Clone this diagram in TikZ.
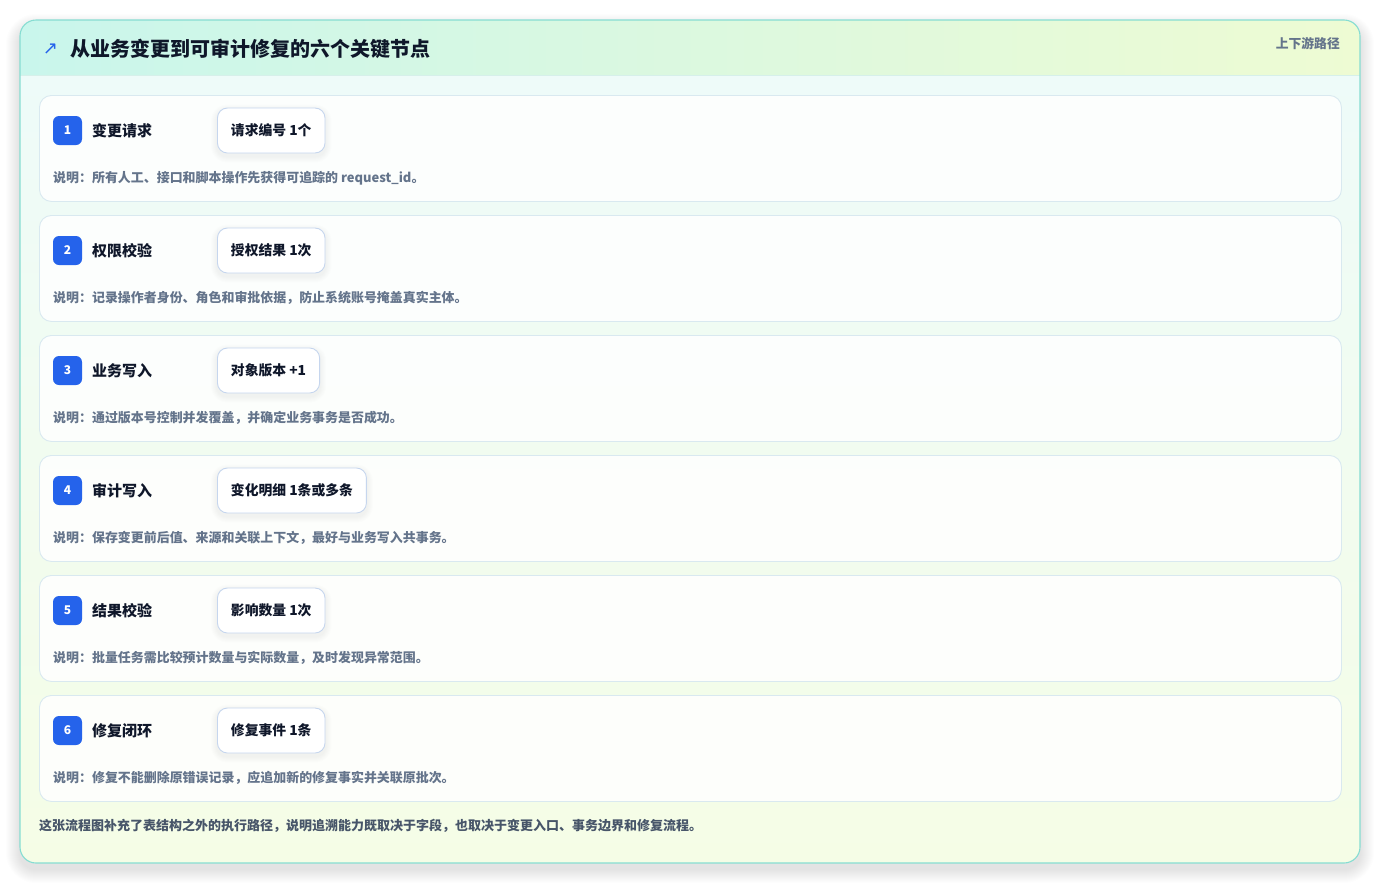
\documentclass[tikz,border=0pt]{standalone}
\usepackage{fontspec}
\setmainfont{Noto Sans CJK SC}
\newfontfamily\symfont{DejaVu Sans}
\definecolor{outerborder}{HTML}{86DDD2}
\definecolor{headl}{HTML}{C9F6EC}
\definecolor{headr}{HTML}{EEFBD3}
\definecolor{headline}{HTML}{D6F0EA}
\definecolor{bodytop}{HTML}{EEFBF9}
\definecolor{bodybot}{HTML}{F5FDE6}
\definecolor{cardborder}{HTML}{D9E9F0}
\definecolor{pillborder}{HTML}{C6D6EE}
\definecolor{badgeblue}{HTML}{2563EB}
\definecolor{titleink}{HTML}{0F172A}
\definecolor{descink}{HTML}{64748B}
\definecolor{footink}{HTML}{475569}
\tikzset{
  cardbox/.style={draw=cardborder, line width=0.9pt, fill=white, fill opacity=0.85, rounded corners=12pt,
    minimum width=1302pt, minimum height=106pt, anchor=north west, inner sep=0pt},
  badge/.style={fill=badgeblue, rounded corners=6pt, minimum width=29pt, minimum height=29pt, inner sep=0pt,
    text=white, font=\fontsize{12}{14}\selectfont\bfseries},
  steptitle/.style={anchor=west, inner sep=0pt, text=titleink, font=\fontsize{15}{17}\selectfont\bfseries},
  pill/.style={draw=pillborder, line width=0.9pt, fill=white, rounded corners=10pt, anchor=west,
    minimum height=45pt, inner xsep=13.5pt, text=titleink, font=\fontsize{13.8}{16}\selectfont\bfseries},
  desc/.style={anchor=west, inner sep=0pt, text=descink, font=\fontsize{12.95}{15}\selectfont\bfseries},
}
\begin{document}
\begin{tikzpicture}[x=1pt,y=-1pt]
\useasboundingbox (0,0) rectangle (1381,884);
\fill[white] (0,0) rectangle (1381,884);
% soft outer shadow
\foreach \s in {1,...,14}{
  \fill[black, opacity=0.006, rounded corners=16pt+\s pt] (20-\s,20-\s+8) rectangle (1360+\s,863+\s+6);
}
\begin{scope}
\clip[rounded corners=16pt] (20,20) rectangle (1360,863);
\shade[top color=bodytop, bottom color=bodybot] (20,75) rectangle (1360,863);
\shade[left color=headl, right color=headr] (20,20) rectangle (1360,75);
\draw[headline, line width=1pt] (20,75.5) -- (1360,75.5);
\end{scope}
\draw[outerborder, line width=1.1pt, rounded corners=16pt] (20,20) rectangle (1360,863);

\node[anchor=center, inner sep=0pt, text=badgeblue, font=\symfont\fontsize{18}{20}\selectfont] (icon) at (50.5,49) {↗};
\node[anchor=west, inner sep=0pt, text=titleink, font=\fontsize{20}{24}\selectfont\bfseries] (maintitle) at (70,49) {从业务变更到可审计修复的六个关键节点};
\node[anchor=east, inner sep=0pt, text=descink, font=\fontsize{12.8}{15}\selectfont\bfseries] (tag) at (1340,44) {上下游路径};

\foreach \i/\t/\p/\d in {
  1/{变更请求}/{请求编号 1个}/{说明：所有人工、接口和脚本操作先获得可追踪的 request\_id。},
  2/{权限校验}/{授权结果 1次}/{说明：记录操作者身份、角色和审批依据，防止系统账号掩盖真实主体。},
  3/{业务写入}/{对象版本 +1}/{说明：通过版本号控制并发覆盖，并确定业务事务是否成功。},
  4/{审计写入}/{变化明细 1条或多条}/{说明：保存变更前后值、来源和关联上下文，最好与业务写入共事务。},
  5/{结果校验}/{影响数量 1次}/{说明：批量任务需比较预计数量与实际数量，及时发现异常范围。},
  6/{修复闭环}/{修复事件 1条}/{说明：修复不能删除原错误记录，应追加新的修复事实并关联原批次。}}{
  \pgfmathsetmacro{\yy}{95+120*(\i-1)}
  \node[cardbox] (card\i) at (39,\yy) {};
  \node[badge] (badge\i) at (67.5,\yy+35.5) {\i};
  \node[steptitle] (title\i) at (92,\yy+36) {\t};
  \node[pill, opacity=0] (ghost\i) at (217,\yy+35.5) {\p};
  \foreach \s in {1,...,6}{
    \fill[black, opacity=0.008, rounded corners=10pt+\s pt]
      ([xshift=-\s pt, yshift=\s pt-3pt]ghost\i.north west) rectangle ([xshift=\s pt, yshift=-\s pt-3pt]ghost\i.south east);
  }
  \node[pill] (pill\i) at (217,\yy+35.5) {\p};
  \node[desc] (desc\i) at (53,\yy+83) {\d};
}

\node[anchor=west, inner sep=0pt, text=footink, font=\fontsize{13}{15}\selectfont\bfseries] (foot) at (39,826) {这张流程图补充了表结构之外的执行路径，说明追溯能力既取决于字段，也取决于变更入口、事务边界和修复流程。};
\end{tikzpicture}
\end{document}
